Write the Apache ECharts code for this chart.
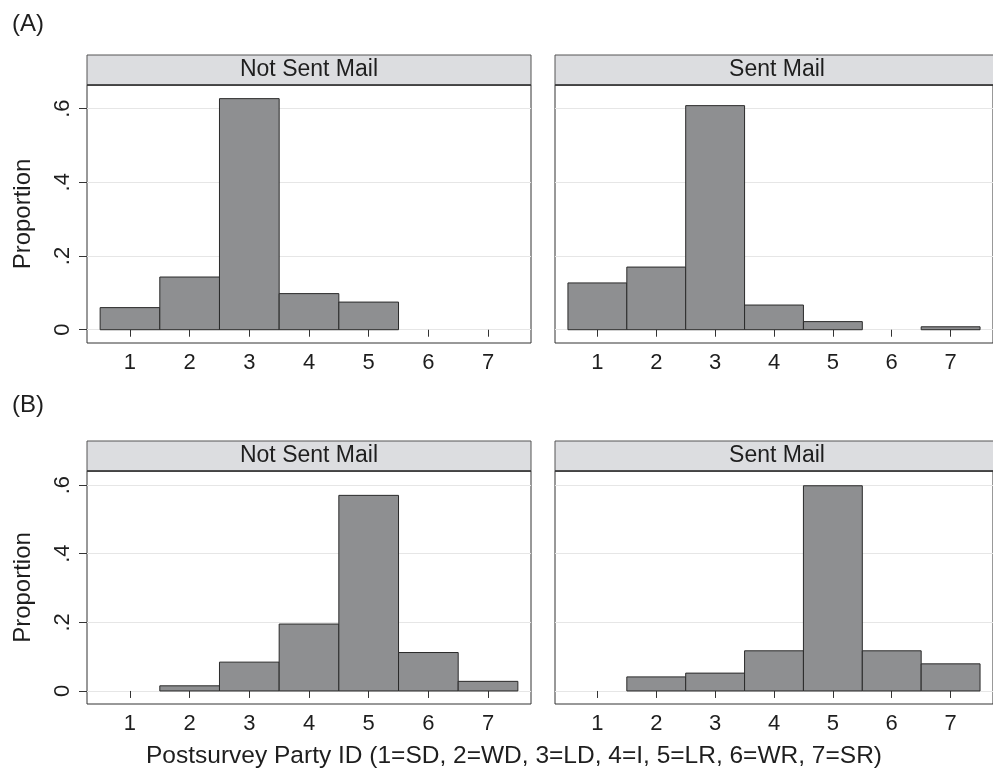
<!DOCTYPE html>
<html>
<head>
<meta charset="utf-8">
<script src="https://cdn.jsdelivr.net/npm/echarts@6/dist/echarts.min.js"></script>
<style>
html,body{margin:0;padding:0;background:#fff;}
#chart{width:993px;height:778px;}
</style>
</head>
<body>
<div id="chart"></div>
<script>
// ---- data ----
const categories = [1, 2, 3, 4, 5, 6, 7];
const xTickLabels = ['1', '2', '3', '4', '5', '6', '7'];
const yTickValues = [0, 0.2, 0.4, 0.6];
const yTickLabels = ['0', '.2', '.4', '.6'];
const panelTitles = ['Not Sent Mail', 'Sent Mail'];
const rowLabels = ['(A)', '(B)'];
const xTitle = 'Postsurvey Party ID (1=SD, 2=WD, 3=LD, 4=I, 5=LR, 6=WR, 7=SR)';
const yTitle = 'Proportion';
const aNotSent = [0.060, 0.143, 0.627, 0.098, 0.075, 0, 0];
const aSent    = [0.127, 0.170, 0.608, 0.067, 0.022, 0, 0.008];
const bNotSent = [0, 0.015, 0.084, 0.195, 0.570, 0.112, 0.028];
const bSent    = [0, 0.041, 0.052, 0.117, 0.598, 0.117, 0.079];

// ---- layout ----
const FONT = '"Liberation Sans", Arial, Helvetica, sans-serif';
const TXT = '#1e1e1e';
const panels = [
  {left: 87, top: 85, width: 444, height: 258, ymin: -0.036, ymax: 0.664, data: aNotSent, showY: true, title: panelTitles[0]},
  {left: 555, top: 85, width: 444, height: 258, ymin: -0.036, ymax: 0.664, data: aSent, showY: false, title: panelTitles[1]},
  {left: 87, top: 471, width: 444, height: 233, ymin: -0.038, ymax: 0.641, data: bNotSent, showY: true, title: panelTitles[0]},
  {left: 555, top: 471, width: 444, height: 233, ymin: -0.038, ymax: 0.641, data: bSent, showY: false, title: panelTitles[1]}
];
const HEADER_H = 30;

function renderBar(params, api) {
  const x = api.value(0), v = api.value(1);
  if (!(v > 0)) return null;
  const p0 = api.coord([x - 0.5, v]);
  const p1 = api.coord([x + 0.5, 0]);
  return {
    type: 'rect',
    shape: {x: p0[0], y: p0[1], width: p1[0] - p0[0], height: p1[1] - p0[1]},
    style: {fill: '#8e8f91', stroke: '#2a2a2a', lineWidth: 1}
  };
}

const grid = [], xAxis = [], yAxis = [], series = [], graphic = [];
panels.forEach((p, i) => {
  grid.push({left: p.left, top: p.top, width: p.width, height: p.height,
    show: true, borderColor: '#333', borderWidth: 1, backgroundColor: '#fff'});
  xAxis.push({
    type: 'value', gridIndex: i, min: 0.28, max: 7.72,
    axisLine: {show: false},
    axisTick: {show: true, customValues: categories, length: 7, lineStyle: {color: '#333'}},
    axisLabel: {show: true, customValues: categories, margin: 9,
      formatter: v => xTickLabels[categories.indexOf(Math.round(v))] || '',
      fontSize: 22, color: TXT, fontFamily: FONT},
    splitLine: {show: false}
  });
  yAxis.push({
    type: 'value', gridIndex: i, min: p.ymin, max: p.ymax,
    name: p.showY ? yTitle : '', nameLocation: 'middle', nameGap: 52, nameRotate: 90,
    nameTextStyle: {fontSize: 24, color: TXT, fontFamily: FONT},
    axisLine: {show: false},
    axisTick: {show: p.showY, customValues: yTickValues, length: 8, lineStyle: {color: '#333'}},
    axisLabel: {show: p.showY, customValues: yTickValues, rotate: 90, margin: 13,
      formatter: v => { const k = yTickValues.findIndex(t => Math.abs(t - v) < 1e-6); return k >= 0 ? yTickLabels[k] : ''; },
      fontSize: 22, color: TXT, fontFamily: FONT},
    splitLine: {show: true, lineStyle: {color: '#e6e6e6', width: 1}}
  });
  series.push({
    type: 'custom', xAxisIndex: i, yAxisIndex: i,
    renderItem: renderBar,
    data: categories.map((c, k) => [c, p.data[k]]),
    silent: true, z: 3
  });
  graphic.push({
    type: 'rect', z: 10,
    shape: {x: p.left, y: p.top - HEADER_H, width: p.width, height: HEADER_H},
    style: {fill: '#dcdde0', stroke: '#555', lineWidth: 1}
  });
  graphic.push({
    type: 'line', z: 11,
    shape: {x1: p.left, y1: p.top, x2: p.left + p.width, y2: p.top},
    style: {stroke: '#333', lineWidth: 1.5}
  });
  graphic.push({
    type: 'text', z: 12,
    x: p.left + p.width / 2, y: p.top - HEADER_H / 2,
    style: {text: p.title, font: '23px ' + FONT, fill: TXT, textAlign: 'center', textVerticalAlign: 'middle'}
  });
});

graphic.push({type: 'text', x: 12, y: 24, style: {text: rowLabels[0], font: '24px ' + FONT, fill: TXT, textAlign: 'left', textVerticalAlign: 'middle'}});
graphic.push({type: 'text', x: 12, y: 405, style: {text: rowLabels[1], font: '24px ' + FONT, fill: TXT, textAlign: 'left', textVerticalAlign: 'middle'}});
graphic.push({type: 'text', x: 514, y: 756, style: {text: xTitle, font: '24.5px ' + FONT, fill: TXT, textAlign: 'center', textVerticalAlign: 'middle'}});

const chart = echarts.init(document.getElementById('chart'), null, {renderer: 'canvas'});
chart.setOption({
  animation: false,
  backgroundColor: '#fff',
  grid, xAxis, yAxis, series, graphic
});
</script>
</body>
</html>
